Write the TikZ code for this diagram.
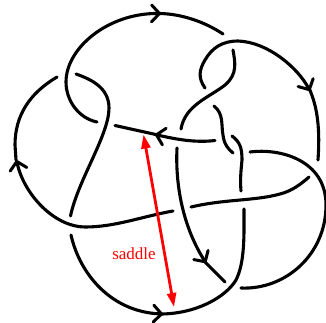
\documentclass[tikz,border=0pt]{standalone}
\usepackage{fontspec}
\setmainfont{Liberation Serif}
\usetikzlibrary{arrows.meta}
\tikzset{
  knot/.style={line width=3.1pt,line cap=round,black},
  barb/.style={-{Straight Barb[length=8pt,width=17pt,line width=3pt,round]}},
  saddlearrow/.style={line width=2.8pt,red,{Stealth[length=14pt,width=9pt,inset=0pt]}-{Stealth[length=14pt,width=9pt,inset=0pt]},shorten <=0pt,shorten >=0pt}
}
\begin{document}
\begin{tikzpicture}[x=1pt,y=-1pt]
\useasboundingbox (0,0) rectangle (326,322);
% top arc
\draw[knot,barb] (97,122) .. controls (78,118) and (66,100) .. (66,82) .. controls (66,48) and (108,13) .. (161,13.5);
\draw[knot] (160,13.5) .. controls (182,14) and (205,22) .. (223,34);
% left arc
\draw[knot] (57,77) .. controls (30,93) and (15,115) .. (15,145) -- (16,160);
\draw[knot,barb] (173,211) .. controls (140,217) and (115,227) .. (85,227) .. controls (55,227) and (24,195) .. (16.5,160);
% inner left
\draw[knot] (76,74) .. controls (90,79) and (109,87) .. (109,108) .. controls (109,135) and (78,180) .. (70.5,216);
% bottom arc
\draw[knot,barb] (71,235) .. controls (80,275) and (112,312) .. (163,314);
\draw[knot] (160,314) .. controls (195,314) and (225,298) .. (236,280) .. controls (245,262) and (244,235) .. (244,209);
% middle horizontal
\draw[knot,barb] (215,140.5) .. controls (195,143) and (175,139) .. (155,134.5);
\draw[knot] (158,135) -- (115,125.5);
% S-curve
\draw[knot] (181,129) .. controls (185,105) and (210,97) .. (225,85) .. controls (238,74) and (235,62) .. (233,50);
% top right arc
\draw[knot,barb] (205,88) .. controls (198,78) and (199,70) .. (205,60) .. controls (212,48) and (222,41) .. (238,41) .. controls (268,42) and (298,68) .. (310,91);
\draw[knot] (309,88) .. controls (318,108) and (320,130) .. (318,160);
% small strands
\draw[knot] (214,106) .. controls (224,114) and (221,125) .. (223,135) .. controls (224,144) and (228,149) .. (233,153);
\draw[knot] (232,136) .. controls (240,142) and (242,148) .. (242,160) .. controls (241,170) and (240,180) .. (241,191);
% right loop
\draw[knot] (250,152) .. controls (280,148) and (326,160) .. (326,205) .. controls (326,255) and (285,290) .. (241,288);
% right horizontal
\draw[knot] (191,207) .. controls (225,199) and (255,201) .. (280,194) .. controls (292,191) and (301,184) .. (309,177);
% centre down
\draw[knot,barb] (177,148) .. controls (175,190) and (185,230) .. (206,263);
\draw[knot] (204,261) -- (225,282);
% saddle
\coordinate (sa) at (143.5,134.5);
\coordinate (sb) at (174,307);
\draw[saddlearrow] (sa) -- (sb);
\node[red,font=\fontsize{17}{20}\selectfont,inner sep=0pt] (saddlelabel) at (134,254) {saddle};
\end{tikzpicture}
\end{document}
